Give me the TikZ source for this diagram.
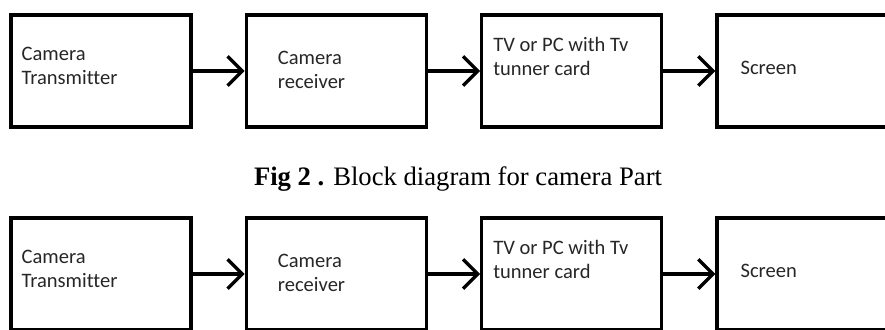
\documentclass[tikz,border=0pt]{standalone}
\usepackage{fontspec}
\setmainfont{Liberation Serif}
\newfontfamily\boxfont{Carlito}[Ligatures=NoCommon]
\usetikzlibrary{positioning,arrows.meta}

\begin{document}
\begin{tikzpicture}[x=0.75pt,y=0.75pt,node distance=39pt,
  block/.style={draw,line width=2.5pt,rectangle,minimum width=135pt,minimum height=84pt,inner sep=0pt},
  lbl/.style={anchor=north west,inner sep=0pt,align=left,font=\boxfont\fontsize{15.4}{18}\selectfont,text=black!85},
  arr/.style={line width=2.5pt,-{Straight Barb[length=11pt,width=22pt]}}]
  \useasboundingbox (0,0) rectangle (885,329);
  % two identical rows of blocks
  \foreach \r/\y in {t/258,b/55} {
    \node[block] (cam\r) at (101,\y) {};
    \node[block] (rec\r) [right = of cam\r] {};
    \node[block] (tv\r) [right = of rec\r] {};
    \node[block,minimum width=150pt] (scr\r) [right = of tv\r] {};
    \node[lbl] (camtxt\r) at ([shift={(12,-34)}]cam\r.north west) {Camera\\Transmitter};
    \node[lbl] (rectxt\r) at ([shift={(33,-38)}]rec\r.north west) {Camera\\receiver};
    \node[lbl] (tvtxt\r) at ([shift={(13,-24)}]tv\r.north west) {TV or PC with Tv\\tunner card};
    \node[lbl] (scrtxt\r) at ([shift={(25,-48)}]scr\r.north west) {Screen};
    \draw[arr] (cam\r) -- (rec\r);
    \draw[arr] (rec\r) -- (tv\r);
    \draw[arr] (tv\r) -- (scr\r);
  }
  \node[anchor=base,font=\fontsize{20}{24}\selectfont] (caption) at (458,144)
    {\textbf{Fig 2 .} Block diagram for camera Part};
\end{tikzpicture}
\end{document}
